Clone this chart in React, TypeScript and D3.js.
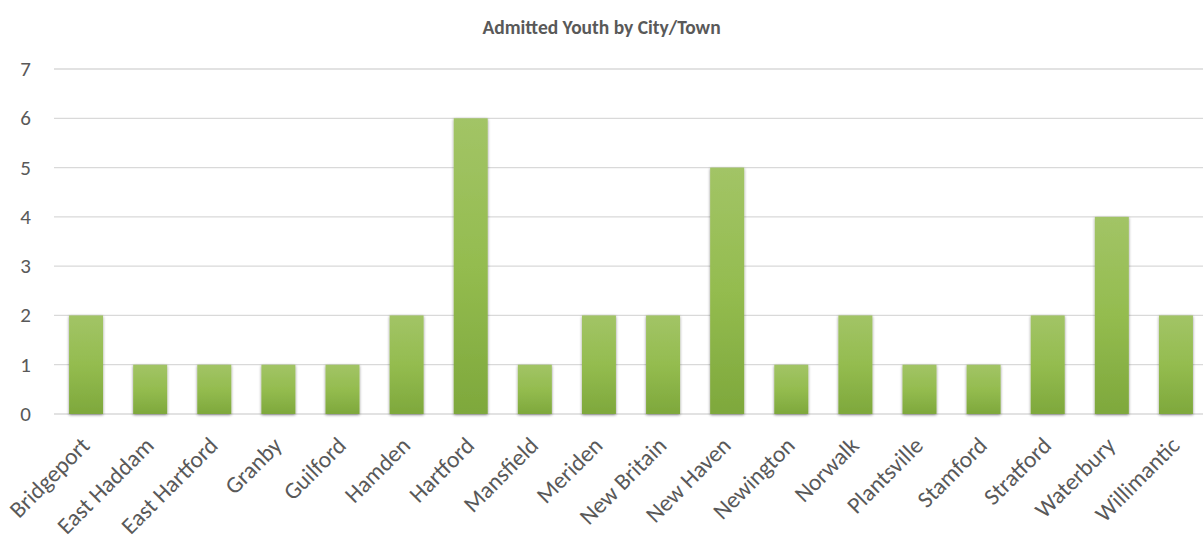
import React from "react";
import * as d3 from "d3";

const categories = ["Bridgeport","East Haddam","East Hartford","Granby","Guilford","Hamden","Hartford","Mansfield","Meriden","New Britain","New Haven","Newington","Norwalk","Plantsville","Stamford","Stratford","Waterbury","Willimantic"];
const values = [2,1,1,1,1,2,6,1,2,2,5,1,2,1,1,2,4,2];
const yTicks = [0,1,2,3,4,5,6,7];
const title = "Admitted Youth by City/Town";

export default function App() {
  const W = 1203, H = 538;
  const left = 54, right = 1208, top = 69, bottom = 414;
  const x = d3.scaleBand<string>().domain(categories).range([left, right]).paddingInner(0.47).paddingOuter(0.235);
  const y = d3.scaleLinear().domain([0, 7]).range([bottom, top]);
  const font = "Carlito, 'Open Sans', 'Liberation Sans', sans-serif";
  return (
    <svg width={W} height={H} style={{ position: "absolute", left: 0, top: 0, background: "#fff" }} fontFamily={font}>
      <defs>
        <linearGradient id="barGrad" x1="0" y1="0" x2="0" y2="1">
          <stop offset="0" stopColor="#a2c466" />
          <stop offset="0.5" stopColor="#94bc4f" />
          <stop offset="1" stopColor="#7ea83c" />
        </linearGradient>
        <filter id="shadow" x="-30%" y="-10%" width="160%" height="130%">
          <feGaussianBlur in="SourceAlpha" stdDeviation="1.8" />
          <feOffset dx="0" dy="1" result="b" />
          <feComponentTransfer><feFuncA type="linear" slope="0.45" /></feComponentTransfer>
          <feMerge><feMergeNode /><feMergeNode in="SourceGraphic" /></feMerge>
        </filter>
      </defs>
      <text x={W / 2} y={34} textAnchor="middle" fontWeight="bold" fontSize={19.5} fill="#595959">{title}</text>
      {yTicks.map(t => (
        <g key={t}>
          <line x1={left} x2={W} y1={y(t)} y2={y(t)} stroke="#d9d9d9" strokeWidth={1.3} />
          <text x={31} y={y(t) + 7} textAnchor="end" fontSize={21} fill="#595959">{t}</text>
        </g>
      ))}
      {categories.map((c, i) => (
        <rect key={c} x={x(c)} y={y(values[i])} width={x.bandwidth()} height={y(0) - y(values[i])} fill="url(#barGrad)" filter="url(#shadow)" />
      ))}
      {categories.map(c => {
        const cx = (x(c) as number) + x.bandwidth() / 2 + 5;
        const cy = 447;
        return (
          <text key={c} x={cx} y={cy} textAnchor="end" fontSize={23.5} fill="#595959" transform={`rotate(-45 ${cx} ${cy})`}>{c}</text>
        );
      })}
    </svg>
  );
}
